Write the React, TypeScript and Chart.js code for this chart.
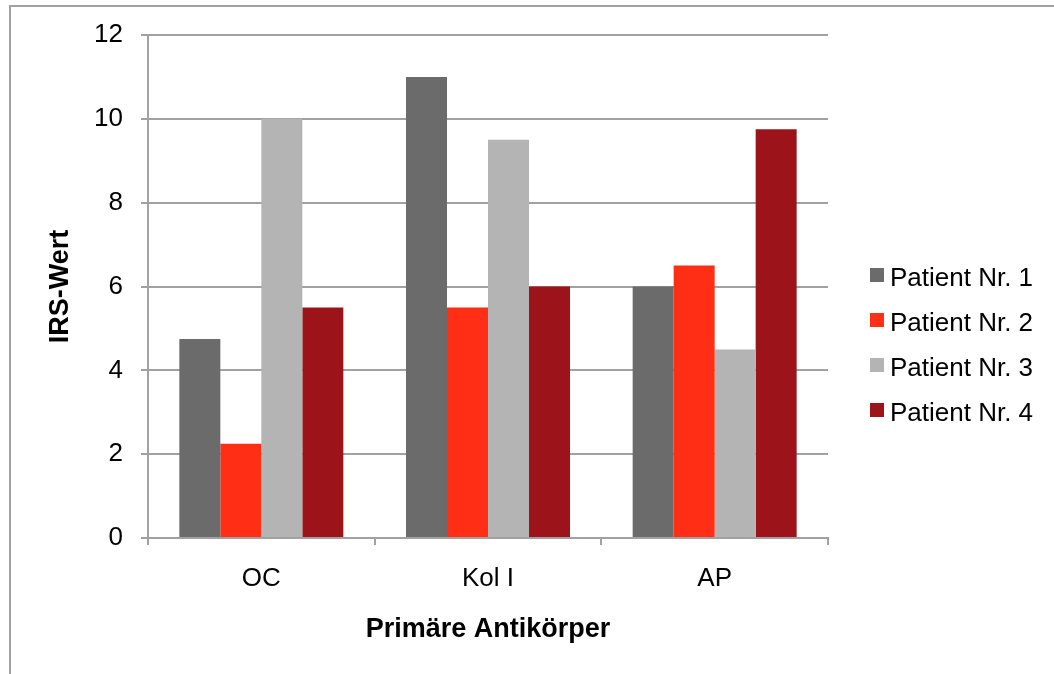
import React, { useEffect, useRef } from "react";
import { Chart, registerables } from "chart.js";

Chart.register(...registerables);

// Chart content
const categories = ["OC", "Kol I", "AP"];
const seriesLabels = ["Patient Nr. 1", "Patient Nr. 2", "Patient Nr. 3", "Patient Nr. 4"];
const patient1 = [4.75, 11, 6];
const patient2 = [2.25, 5.5, 6.5];
const patient3 = [10, 9.5, 4.5];
const patient4 = [5.5, 6, 9.75];
const seriesColors = ["#6b6b6b", "#ff2e14", "#b4b4b4", "#9c1419"];
const yTickValues = [0, 2, 4, 6, 8, 10, 12];
const xAxisTitle = "Primäre Antikörper";
const yAxisTitle = "IRS-Wert";

const FONT = '"Liberation Sans", Arial, Helvetica, sans-serif';
const GRID = "#a1a1a1";

// Vertical legend drawn to the right of the plot area
const sideLegend = {
  id: "sideLegend",
  afterDraw(chart: any) {
    const { ctx, chartArea } = chart;
    const x = chartArea.right + 42;
    ctx.save();
    ctx.font = `26px ${FONT}`;
    ctx.textAlign = "left";
    ctx.textBaseline = "alphabetic";
    chart.data.datasets.forEach((ds: any, i: number) => {
      const top = 268 + i * 45;
      ctx.fillStyle = ds.backgroundColor;
      ctx.fillRect(x, top, 14, 14);
      ctx.fillStyle = "#000";
      ctx.fillText(ds.label, x + 20, top + 18);
    });
    ctx.restore();
  },
};

export default function App() {
  const canvasRef = useRef<HTMLCanvasElement | null>(null);

  useEffect(() => {
    if (!canvasRef.current) return;
    const seriesValues = [patient1, patient2, patient3, patient4];
    const chart = new Chart(canvasRef.current, {
      type: "bar",
      data: {
        labels: categories,
        datasets: seriesValues.map((values, i) => ({
          label: seriesLabels[i],
          data: values,
          backgroundColor: seriesColors[i],
          borderWidth: 0,
          categoryPercentage: 0.7235,
          barPercentage: 1,
        })),
      },
      options: {
        animation: false,
        responsive: false,
        devicePixelRatio: 1,
        layout: { padding: { left: 0, top: 35, right: 226, bottom: 0 } },
        plugins: {
          legend: { display: false },
          tooltip: { enabled: false },
        },
        scales: {
          x: {
            afterFit: (scale: any) => {
              scale.height = 136;
            },
            grid: {
              offset: true,
              drawOnChartArea: false,
              drawTicks: true,
              tickLength: 7,
              color: GRID,
              lineWidth: 2,
            },
            border: { display: true, color: GRID, width: 2 },
            ticks: {
              color: "#000",
              padding: 18,
              font: { family: FONT, size: 26 },
            },
            title: {
              display: true,
              text: xAxisTitle,
              color: "#000",
              font: { family: FONT, size: 27, weight: "bold" },
              padding: { top: 0, bottom: 28 },
            },
          },
          y: {
            min: 0,
            max: 12,
            afterFit: (scale: any) => {
              scale.width = 148;
            },
            afterBuildTicks: (scale: any) => {
              scale.ticks = yTickValues.map((v) => ({ value: v }));
            },
            grid: {
              color: GRID,
              lineWidth: 2,
              drawTicks: true,
              tickLength: 7,
            },
            border: { display: true, color: GRID, width: 2 },
            ticks: {
              color: "#000",
              padding: 18,
              font: { family: FONT, size: 26 },
            },
            title: {
              display: true,
              text: yAxisTitle,
              color: "#000",
              font: { family: FONT, size: 27, weight: "bold" },
              padding: { top: 44, bottom: 0 },
            },
          },
        },
      },
      plugins: [sideLegend],
    });
    return () => chart.destroy();
  }, []);

  return (
    <div
      style={{
        position: "absolute",
        left: 0,
        top: 0,
        width: 1054,
        height: 674,
        overflow: "hidden",
        background: "#fff",
      }}
    >
      <div
        style={{
          position: "absolute",
          left: 9,
          top: 5,
          width: 1200,
          height: 800,
          border: `2px solid ${GRID}`,
          boxSizing: "border-box",
        }}
      />
      <canvas
        ref={canvasRef}
        width={1054}
        height={674}
        style={{ position: "absolute", left: 0, top: 0, width: 1054, height: 674 }}
      />
    </div>
  );
}
